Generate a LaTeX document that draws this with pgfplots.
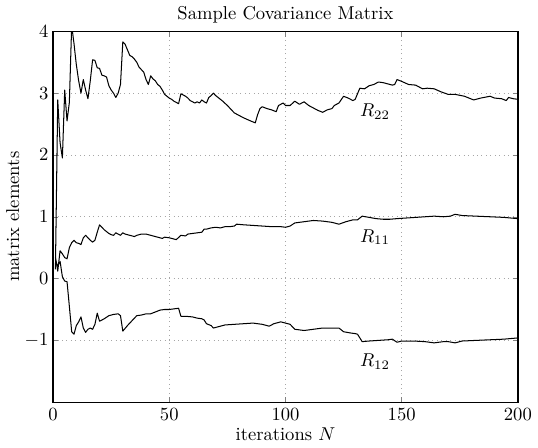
\documentclass[border=0pt]{standalone}
\usepackage{pgfplots}
\pgfplotsset{compat=1.18}

\begin{document}
\begin{tikzpicture}
\begin{axis}[
    scale only axis,
    width=250pt, height=199.5pt,
    xmin=0, xmax=200, ymin=-2, ymax=4,
    xtick={0,50,100,150,200},
    ytick={-1,0,1,2,3,4},
    tick align=inside,
    major tick length=2.8pt,
    grid=major,
    major grid style={dotted, gray!70, line width=0.4pt},
    axis line style={line width=0.7pt},
    yticklabel style={xshift=1pt},
    title={Sample Covariance Matrix},
    xlabel={iterations $N$},
    ylabel={matrix elements},
    title style={yshift=-5pt},
    xlabel style={yshift=3pt},
    ylabel style={yshift=-4pt},
    clip=true,
]
% R22
\addplot[black, no markers, line width=0.55pt, line join=round] coordinates {
(1,0.15)(2,2.89)(3,2.20)(4,1.95)(5,3.05)(6,2.55)(7,2.85)(8,4.10)(9,3.80)(10,3.46)
(11,3.20)(12,3.00)(13,3.22)(14,3.05)(15,2.91)(16,3.20)(17,3.54)(18,3.53)(19,3.41)(20,3.40)
(21,3.29)(22,3.28)(23,3.26)(24,3.12)(25,3.05)(26,3.00)(27,2.93)(28,3.00)(29,3.14)(30,3.83)
(31,3.79)(32,3.70)(33,3.61)(34,3.59)(35,3.55)(36,3.50)(37,3.42)(38,3.38)(39,3.34)(40,3.22)
(41,3.14)(42,3.28)(43,3.23)(44,3.20)(45,3.14)(46,3.11)(47,3.05)(48,2.98)(49,2.95)(50,2.92)
(51,2.90)(52,2.87)(53,2.85)(54,2.83)(55,2.99)(56,2.97)(57,2.95)(58,2.92)(59,2.88)(60,2.86)
(61,2.84)(62,2.86)(63,2.84)(64,2.89)(65,2.86)(66,2.84)(67,2.93)(68,2.96)(69,3.00)(70,2.96)
(71,2.93)(73,2.87)(75,2.80)(78,2.68)(80,2.64)(82,2.60)(85,2.55)(87,2.52)(88,2.65)(89,2.75)
(90,2.78)(92,2.75)(94,2.73)(96,2.70)(97,2.80)(99,2.84)(100,2.80)(102,2.80)(104,2.87)(106,2.82)
(108,2.86)(110,2.80)(112,2.76)(114,2.72)(116,2.69)(118,2.73)(120,2.75)(121,2.80)(123,2.84)(125,2.95)
(127,2.92)(129,2.88)(130,2.90)(132,3.08)(134,3.07)(136,3.12)(138,3.14)(140,3.18)(142,3.17)(144,3.15)
(146,3.13)(147,3.14)(148,3.22)(150,3.19)(153,3.14)(156,3.13)(159,3.07)(161,3.08)(164,3.07)(167,3.02)
(170,2.98)(173,2.98)(177,2.95)(181,2.89)(184,2.92)(188,2.95)(190,2.92)(193,2.91)(195,2.88)(196,2.93)
(198,2.91)(200,2.90)
};
% R11
\addplot[black, no markers, line width=0.55pt, line join=round] coordinates {
(1,0.34)(2,0.12)(3,0.45)(4,0.40)(5,0.34)(6,0.32)(7,0.50)(8,0.58)(9,0.62)(10,0.58)
(11,0.57)(12,0.55)(13,0.66)(14,0.70)(15,0.66)(16,0.62)(17,0.59)(18,0.62)(19,0.75)(20,0.87)
(21,0.83)(22,0.79)(23,0.76)(24,0.73)(25,0.71)(26,0.70)(27,0.74)(28,0.72)(29,0.70)(30,0.74)
(31,0.72)(32,0.71)(33,0.70)(34,0.69)(35,0.68)(36,0.70)(38,0.72)(40,0.72)(42,0.70)(44,0.68)
(46,0.66)(47,0.65)(48,0.67)(50,0.66)(52,0.64)(53,0.63)(55,0.70)(57,0.69)(58,0.72)(60,0.73)
(62,0.74)(64,0.75)(65,0.80)(66,0.80)(68,0.82)(70,0.83)(72,0.82)(74,0.84)(76,0.84)(78,0.85)
(79,0.88)(82,0.87)(86,0.86)(90,0.85)(94,0.84)(98,0.84)(100,0.83)(102,0.85)(104,0.90)(108,0.92)
(112,0.94)(116,0.93)(120,0.91)(123,0.88)(126,0.92)(129,0.95)(131,0.95)(133,1.01)(136,0.99)(139,0.97)
(142,0.96)(145,0.96)(148,0.97)(152,0.98)(156,0.99)(160,1.00)(164,1.01)(168,1.00)(171,1.01)(173,1.04)
(176,1.02)(182,1.01)(188,1.00)(194,0.99)(200,0.97)
};
% R12
\addplot[black, no markers, line width=0.55pt, line join=round] coordinates {
(1,0.30)(2,0.20)(3,0.28)(4,0.03)(5,-0.04)(6,-0.05)(7,-0.45)(8,-0.86)(9,-0.90)(10,-0.76)
(11,-0.70)(12,-0.62)(13,-0.80)(14,-0.87)(15,-0.82)(16,-0.80)(17,-0.82)(18,-0.74)(19,-0.56)(20,-0.69)
(21,-0.67)(22,-0.65)(24,-0.60)(26,-0.58)(28,-0.57)(29,-0.60)(30,-0.85)(32,-0.76)(34,-0.68)(36,-0.60)
(38,-0.59)(40,-0.57)(42,-0.57)(44,-0.54)(46,-0.51)(48,-0.50)(50,-0.50)(52,-0.49)(54,-0.48)(55,-0.61)
(57,-0.61)(60,-0.62)(62,-0.64)(64,-0.65)(65,-0.67)(66,-0.73)(68,-0.76)(69,-0.80)(71,-0.78)(74,-0.75)
(78,-0.74)(82,-0.73)(86,-0.72)(90,-0.74)(93,-0.77)(95,-0.73)(98,-0.70)(100,-0.72)(102,-0.74)(104,-0.82)
(108,-0.84)(112,-0.82)(116,-0.80)(120,-0.80)(123,-0.80)(125,-0.86)(128,-0.88)(130,-0.89)(131,-0.90)(133,-1.02)
(136,-1.01)(140,-1.00)(144,-0.99)(146,-0.98)(148,-1.03)(150,-1.01)(155,-1.01)(160,-1.02)(164,-1.04)(168,-1.02)
(170,-1.02)(173,-1.04)(176,-1.01)(182,-1.00)(188,-0.99)(194,-0.98)(200,-0.96)
};
\node at (axis cs:138.5,2.70) {$R_{22}$};
\node at (axis cs:138.5,0.67) {$R_{11}$};
\node at (axis cs:138.5,-1.34) {$R_{12}$};
\end{axis}
\end{tikzpicture}
\end{document}
